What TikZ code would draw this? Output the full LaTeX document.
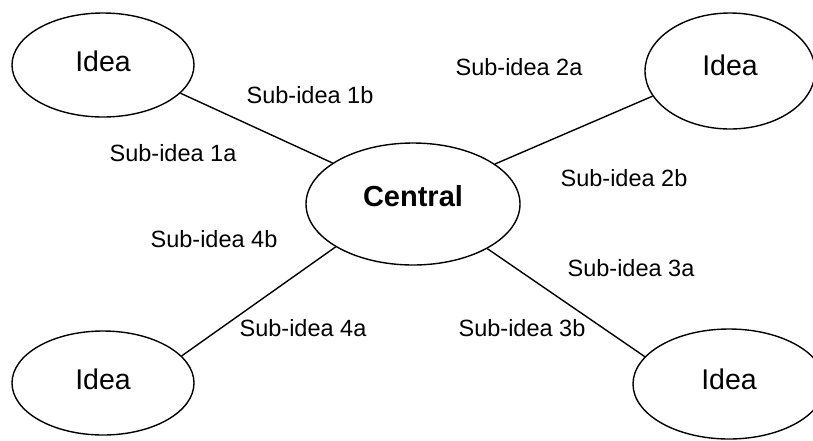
\documentclass[tikz,border=0pt]{standalone}
\usepackage{fontspec}
\setmainfont{Liberation Sans}
\usetikzlibrary{shapes.geometric}
\begin{document}
\begin{tikzpicture}[x=1pt,y=-1pt,
  bubble/.style={draw, ellipse, line width=1.4pt, inner sep=0pt, font=\fontsize{28.5}{30}\selectfont},
  link/.style={line width=1.4pt},
  sub/.style={font=\fontsize{23.5}{26}\selectfont, inner sep=0pt}]
\useasboundingbox (0,0) rectangle (813,440);
\node[bubble, minimum width=182pt, minimum height=104pt] (tl) at (103,65) {\raisebox{8pt}{Idea}};
\node[bubble, minimum width=170pt, minimum height=116pt] (tr) at (730,71) {\raisebox{12pt}{Idea}};
\node[bubble, minimum width=214pt, minimum height=122pt, font=\fontsize{29}{31}\selectfont\bfseries] (c) at (413,204) {\raisebox{16pt}{Central}};
\node[bubble, minimum width=182pt, minimum height=104pt] (bl) at (103,383) {\raisebox{8pt}{Idea}};
\node[bubble, minimum width=192pt, minimum height=110pt] (br) at (729,384) {\raisebox{9pt}{Idea}};
\draw[link] (tl.-20) -- (c.153);
\draw[link] (tr.198) -- (c.26);
\draw[link] (bl.19) -- (c.209);
\draw[link] (br.162) -- (c.-31);
\node[sub] (s1b) at (310,95) {Sub-idea 1b};
\node[sub] (s1a) at (173,153) {Sub-idea 1a};
\node[sub] (s2a) at (519,67) {Sub-idea 2a};
\node[sub] (s2b) at (624,178) {Sub-idea 2b};
\node[sub] (s4b) at (214,239) {Sub-idea 4b};
\node[sub] (s3a) at (631,268) {Sub-idea 3a};
\node[sub] (s4a) at (303,328) {Sub-idea 4a};
\node[sub] (s3b) at (522,328) {Sub-idea 3b};
\end{tikzpicture}
\end{document}
